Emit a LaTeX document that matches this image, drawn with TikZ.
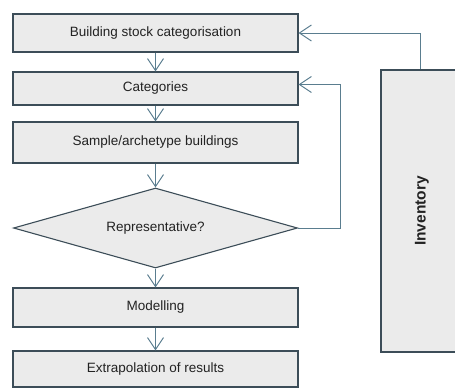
\documentclass[tikz,border=0pt]{standalone}
\usepackage{fontspec}
\setmainfont{Liberation Sans}
\usetikzlibrary{arrows.meta,shapes.geometric}
\definecolor{boxfill}{HTML}{EBEBEB}
\definecolor{boxline}{HTML}{3C4D58}
\definecolor{arrline}{HTML}{5A7D8F}
\definecolor{txt}{HTML}{222222}
\tikzset{
  procbox/.style={draw=boxline, line width=1.1pt, fill=boxfill, inner sep=0pt,
    minimum width=285pt, text=txt, font=\fontsize{13.5}{15}\selectfont},
  decbox/.style={draw=boxline, line width=1.1pt, fill=boxfill, diamond, aspect=3.5,
    inner sep=0pt, minimum width=284pt, minimum height=80pt, text=txt,
    font=\fontsize{13.5}{15}\selectfont},
  arr/.style={draw=arrline, line width=1pt, -{Straight Barb[length=12pt,width=16pt,line width=1pt]}},
}
\begin{document}
\begin{tikzpicture}[x=1pt,y=-1pt]
\useasboundingbox (0,0) rectangle (455,388);
\clip (0,0) rectangle (455,388);
\node[procbox, minimum height=38pt] (b1) at (155.5,33) {Building stock categorisation};
\node[procbox, minimum height=33pt] (b2) at (155.5,88.5) {Categories};
\node[procbox, minimum height=41pt] (b3) at (155.5,142.5) {Sample/archetype buildings};
\node[decbox] (dia) at (155.5,228) {Representative?};
\node[procbox, minimum height=39pt] (b4) at (155.5,307.5) {Modelling};
\node[procbox, minimum height=36pt] (b5) at (155.5,369) {Extrapolation of results};
\node[draw=boxline, line width=1.1pt, fill=boxfill, minimum width=82pt, minimum height=282pt, inner sep=0pt] (inv) at (422,211) {};
\node[rotate=90, text=txt, font=\bfseries\fontsize{15.5}{17}\selectfont] (invt) at (inv.center) {Inventory};
\draw[arr] (b1.south) -- (b2.north);
\draw[arr] (b2.south) -- (b3.north);
\draw[arr] (b3.south) -- (dia.north);
\draw[arr] (dia.south) -- (b4.north);
\draw[arr] (b4.south) -- (b5.north);
\draw[arr] (dia.east) -- ++(42,0) |- ([yshift=4pt]b2.east);
\draw[arr] ([xshift=-2pt]inv.north) |- (b1.east);
\end{tikzpicture}
\end{document}
